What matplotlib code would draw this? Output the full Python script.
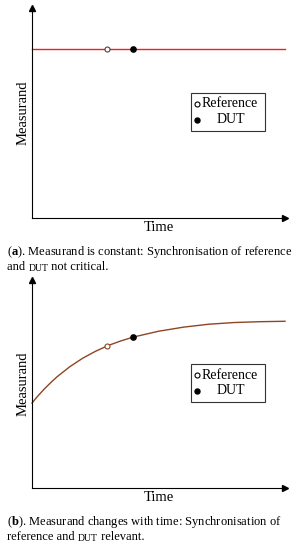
import matplotlib
matplotlib.use("Agg")
import matplotlib.pyplot as plt
import matplotlib.patches as mpatches

plt.rcParams["font.family"] = "Liberation Serif"
plt.rcParams["mathtext.fontset"] = "custom"
plt.rcParams["mathtext.rm"] = "Liberation Serif"
plt.rcParams["mathtext.bf"] = "Liberation Serif:bold"

RED = "#f01e1e"
BROWN = "#8e4524"

# ── data (arbitrary units, axes run 0..10) ───────────────────────────────────
const_t = [0, 10]
const_y = [8.05, 8.05]

curve_t = [0, 0.25, 0.5, 0.75, 1, 1.5, 2, 2.5, 3, 3.5, 4, 5, 6, 7, 8, 9, 10]
curve_y = [4.09, 4.45, 4.78, 5.08, 5.36, 5.84, 6.24, 6.57, 6.85, 7.07, 7.26,
           7.54, 7.74, 7.88, 7.96, 8.00, 8.02]

ref_t, dut_t = 2.96, 4.0
ref_y_a, dut_y_a = 8.05, 8.05
ref_y_b, dut_y_b = 6.84, 7.26

legend_labels = ["Reference", "DUT"]

fig = plt.figure(figsize=(3.05, 5.5), dpi=100)
ax_a = fig.add_axes([0.1049, 0.6036, 0.8295, 0.382])
ax_b = fig.add_axes([0.1049, 0.1127, 0.8295, 0.378])


def style_axes(ax):
    ax.set_xlim(0, 10)
    ax.set_ylim(0, 10)
    ax.spines["top"].set_visible(False)
    ax.spines["right"].set_visible(False)
    ax.spines["left"].set_linewidth(0.8)
    ax.spines["bottom"].set_linewidth(0.8)
    ax.set_xticks([])
    ax.set_yticks([])
    ax.plot(1, 0, ">k", markersize=5, transform=ax.transAxes, clip_on=False)
    ax.plot(0, 1, "^k", markersize=5, transform=ax.transAxes, clip_on=False)
    ax.set_xlabel("Time", fontsize=10.5, labelpad=2)
    ax.set_ylabel("Measurand", fontsize=10.5, labelpad=2)
    # legend box drawn by hand (DUT label centred like the original)
    ax.add_patch(mpatches.Rectangle((0.628, 0.414), 0.293, 0.182, transform=ax.transAxes,
                                    facecolor="white", edgecolor="#333333", linewidth=0.8))
    ax.plot(0.652, 0.543, "o", mfc="white", mec="black", mew=0.8, markersize=3.6,
            transform=ax.transAxes)
    ax.plot(0.652, 0.467, "o", color="black", markersize=3.6, transform=ax.transAxes)
    ax.text(0.672, 0.543, legend_labels[0], fontsize=10, va="center", ha="left",
            transform=ax.transAxes)
    ax.text(0.787, 0.467, legend_labels[1], fontsize=10, va="center", ha="center",
            transform=ax.transAxes)


# ── panel (a): constant measurand ───────────────────────────────────────────
ax_a.plot(const_t, const_y, color=RED, linewidth=1.0, clip_on=False)
ax_a.plot(ref_t, ref_y_a, "o", mfc="white", mec="#444444", mew=0.8, markersize=3.6)
ax_a.plot(dut_t, dut_y_a, "o", color="black", markersize=3.8)
style_axes(ax_a)

# ── panel (b): measurand changes with time ──────────────────────────────────
ax_b.plot(curve_t, curve_y, color=BROWN, linewidth=1.0, clip_on=False)
ax_b.plot(ref_t, ref_y_b, "o", mfc="white", mec=BROWN, mew=0.8, markersize=3.6)
ax_b.plot(dut_t, dut_y_b, "o", color="black", markersize=3.8)
style_axes(ax_b)

# ── captions (DUT in small caps) ────────────────────────────────────────────
fs = 9
fig.text(0.023, 0.557, r"($\mathbf{a}$). Measurand is constant: Synchronisation of reference",
         fontsize=fs, va="top", ha="left")
t2 = fig.text(0.023, 0.526, "and ", fontsize=fs, va="top", ha="left")
t3 = plt.annotate("DUT", xy=(1, 0), xycoords=t2, fontsize=fs * 0.78, va="bottom", ha="left")
plt.annotate(" not critical.", xy=(1, 0), xycoords=t3, fontsize=fs, va="bottom", ha="left")

fig.text(0.023, 0.066, r"($\mathbf{b}$). Measurand changes with time: Synchronisation of",
         fontsize=fs, va="top", ha="left")
b2 = fig.text(0.023, 0.035, "reference and ", fontsize=fs, va="top", ha="left")
b3 = plt.annotate("DUT", xy=(1, 0), xycoords=b2, fontsize=fs * 0.78, va="bottom", ha="left")
plt.annotate(" relevant.", xy=(1, 0), xycoords=b3, fontsize=fs, va="bottom", ha="left")

plt.savefig("out.png", dpi=100)
